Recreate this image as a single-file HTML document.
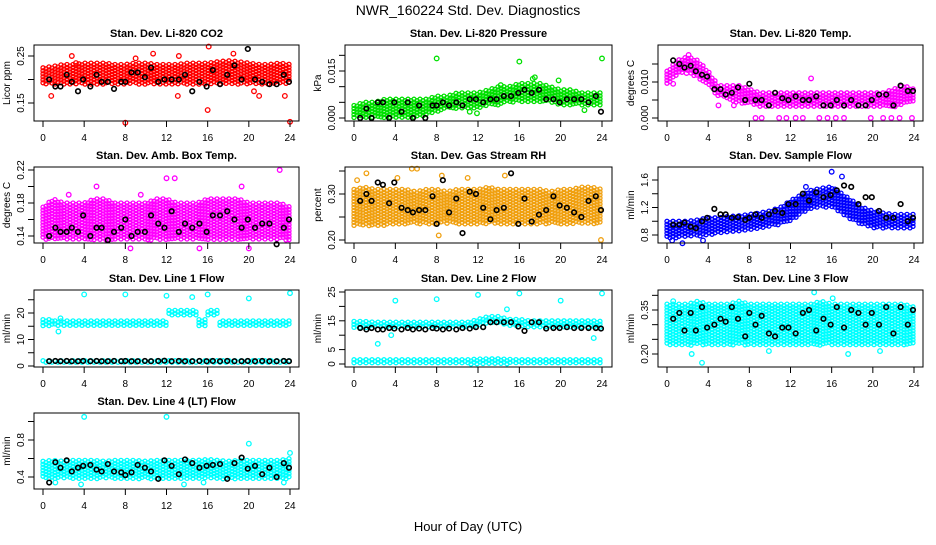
<!DOCTYPE html>
<html><head><meta charset="utf-8"><style>
html,body{margin:0;padding:0;background:#fff}
svg text{font-family:"Liberation Sans",sans-serif}
</style></head><body>
<svg id="c" width="936" height="540" xmlns="http://www.w3.org/2000/svg">
<text x="468" y="15" text-anchor="middle" font-size="14">NWR_160224 Std. Dev. Diagnostics</text>
<text x="468" y="531" text-anchor="middle" font-size="13">Hour of Day (UTC)</text>
</svg>
<script>
const bandHours=[0,1,2,3,4,5,6,7,8,9,10,11,12,13,14,15,16,17,18,19,20,21,22,23,24];
const blackHours=[0.6,1.2,1.7,2.3,2.8,3.4,3.9,4.6,5.2,5.7,6.3,6.9,7.6,8.0,8.6,9.2,9.9,10.5,11.2,11.8,12.5,13.2,13.8,14.5,15.2,15.9,16.5,17.2,17.9,18.6,19.3,19.9,20.6,21.3,22.0,22.7,23.4,23.9];
const xTicks=[0,4,8,12,16,20,24];

// Panel 1 CO2
const p1Lo=[0.19,0.19,0.19,0.19,0.19,0.19,0.19,0.19,0.19,0.19,0.19,0.19,0.19,0.19,0.19,0.19,0.19,0.19,0.19,0.19,0.19,0.19,0.19,0.19,0.19];
const p1Hi=[0.225,0.228,0.232,0.232,0.235,0.235,0.235,0.232,0.232,0.235,0.235,0.232,0.232,0.232,0.235,0.235,0.235,0.238,0.24,0.238,0.235,0.232,0.232,0.235,0.232];
const p1OutH=[0.8,2.8,8,16,16.1,9,10.7,13.1,23.5,24,13.2,18.5,21,3.2,20.5];
const p1OutV=[0.165,0.25,0.108,0.135,0.27,0.245,0.255,0.165,0.165,0.11,0.25,0.255,0.165,0.235,0.175];
const p1Black=[0.2,0.185,0.185,0.21,0.195,0.175,0.2,0.185,0.21,0.195,0.195,0.18,0.195,0.195,0.215,0.215,0.205,0.225,0.195,0.2,0.2,0.2,0.21,0.175,0.195,0.185,0.22,0.19,0.21,0.23,0.2,0.265,0.2,0.195,0.19,0.19,0.21,0.195];
// Panel 2 Pressure
const p2Lo=[0,0,0,0,0,0,0,0.001,0.002,0.003,0.003,0.003,0.003,0.004,0.004,0.005,0.005,0.005,0.005,0.005,0.004,0.004,0.004,0.004,0.004];
const p2Hi=[0.004,0.005,0.005,0.006,0.006,0.006,0.006,0.006,0.007,0.007,0.008,0.008,0.008,0.009,0.01,0.01,0.011,0.011,0.011,0.01,0.009,0.009,0.008,0.008,0.008];
const p2OutH=[8,16,24,17.5,17.3,19.8,11.9,11.2,14.2,22.3];
const p2OutV=[0.019,0.018,0.019,0.013,0.0125,0.012,0.0015,0.002,0.0105,0.0025];
const p2Black=[0,0.003,0,0.005,0.005,0,0.005,0.002,0.005,0,0.004,0,0.004,0.004,0.005,0.004,0.005,0.004,0.006,0.006,0.005,0.006,0.006,0.007,0.007,0.008,0.009,0.008,0.009,0.006,0.006,0.005,0.006,0.006,0.006,0.005,0.007,0.002];
// Panel 3 Temp
const p3Lo=[0.009,0.012,0.013,0.011,0.009,0.006,0.005,0.004,0.004,0.003,0.003,0.003,0.003,0.003,0.003,0.003,0.003,0.003,0.003,0.003,0.003,0.003,0.003,0.004,0.004];
const p3Hi=[0.013,0.016,0.017,0.016,0.013,0.009,0.009,0.009,0.008,0.007,0.007,0.007,0.007,0.007,0.007,0.007,0.007,0.007,0.007,0.007,0.007,0.007,0.008,0.009,0.008];
const p3OutH=[0.6,1.9,5,6.5,14,2.1,8.6,9.2,10.9,11.6,12.5,13.2,14.8,15.6,16.4,17.2,19.8,21,21.8,22.6,23.8];
const p3OutV=[0.0095,0.0125,0.0035,0.0035,0.011,0.0175,0,0,0,0,0,0,0,0,0,0,0,0,0,0,0];
const p3Black=[0.016,0.015,0.014,0.0145,0.013,0.012,0.0115,0.008,0.008,0.0065,0.007,0.0085,0.005,0.0095,0.005,0.005,0.0035,0.007,0.0055,0.005,0.006,0.005,0.005,0.006,0.0035,0.0035,0.005,0.0035,0.005,0.0035,0.0035,0.005,0.0065,0.0065,0.0035,0.009,0.0075,0.0075];
// Panel 4 Amb box temp
const p4Lo=[0.135,0.135,0.135,0.135,0.135,0.135,0.135,0.135,0.135,0.135,0.135,0.135,0.135,0.135,0.135,0.135,0.135,0.135,0.135,0.135,0.135,0.135,0.135,0.135,0.135];
const p4Hi=[0.175,0.185,0.18,0.18,0.18,0.185,0.185,0.18,0.18,0.18,0.18,0.185,0.185,0.18,0.18,0.18,0.185,0.185,0.185,0.185,0.18,0.18,0.18,0.18,0.175];
const p4OutH=[2.5,5.2,9.5,12,12.8,19.3,23,15.2,8.5,20];
const p4OutV=[0.19,0.2,0.19,0.21,0.21,0.2,0.22,0.125,0.125,0.125];
const p4Black=[0.14,0.15,0.145,0.145,0.15,0.145,0.165,0.14,0.15,0.15,0.135,0.145,0.15,0.16,0.14,0.145,0.145,0.165,0.155,0.15,0.17,0.145,0.155,0.15,0.155,0.145,0.165,0.165,0.17,0.16,0.15,0.16,0.15,0.155,0.155,0.13,0.15,0.16];
// Panel 5 RH
const p5Lo=[0.23,0.23,0.23,0.23,0.235,0.235,0.235,0.235,0.235,0.235,0.235,0.235,0.235,0.235,0.235,0.235,0.235,0.235,0.235,0.235,0.235,0.235,0.235,0.235,0.235];
const p5Hi=[0.31,0.315,0.31,0.31,0.31,0.31,0.305,0.31,0.31,0.305,0.31,0.31,0.31,0.315,0.31,0.31,0.31,0.31,0.31,0.305,0.31,0.31,0.315,0.315,0.31];
const p5OutH=[0.3,1.2,4.2,6.1,8.2,8.5,11,14.6,23.9,5.6];
const p5OutV=[0.33,0.345,0.335,0.355,0.21,0.34,0.335,0.34,0.2,0.355];
const p5Black=[0.285,0.3,0.285,0.325,0.32,0.28,0.325,0.27,0.265,0.26,0.265,0.265,0.295,0.235,0.33,0.26,0.29,0.215,0.305,0.3,0.27,0.245,0.265,0.27,0.345,0.235,0.29,0.24,0.255,0.265,0.295,0.275,0.27,0.26,0.25,0.285,0.295,0.265];
// Panel 6 Sample flow
const p6Lo=[0.75,0.75,0.78,0.78,0.8,0.82,0.84,0.86,0.88,0.9,0.92,0.95,1.0,1.1,1.18,1.2,1.2,1.1,1.0,0.95,0.9,0.9,0.9,0.9,0.9];
const p6Hi=[1.0,1.0,1.0,1.02,1.05,1.05,1.07,1.08,1.1,1.12,1.15,1.2,1.3,1.38,1.45,1.48,1.5,1.4,1.3,1.2,1.15,1.12,1.1,1.1,1.1];
const p6OutH=[1.5,3.5,16,17,13.5,0.5];
const p6OutV=[0.68,0.72,1.72,1.65,1.5,0.72];
const p6Black=[0.95,0.95,0.98,0.92,0.9,1.0,1.05,1.18,1.1,1.1,1.05,1.06,1.02,1.05,1.1,1.05,1.1,1.15,1.12,1.25,1.25,1.4,1.3,1.42,1.35,1.38,1.45,1.52,1.5,1.25,1.35,1.35,1.15,1.05,1.05,1.25,1.0,1.05];
// Panel 7 Line 1 flow
const p7Lo=[15,15,15,15,15,15,15,15,15,15,15,15,19,19,19,15,19,15,15,15,15,15,15,15,15];
const p7Hi=[17.5,17,17,17,17,17,17,17,17,17,17,17,21,21,21,17.5,21,17,17,17,17,17,17,17,17];
const p7Lo2=[1,1,1,1,1,1,1,1,1,1,1,1,1,1,1,1,1,1,1,1,1,1,1,1,1];
const p7Hi2=[2,2,2,2,2,2,2,2,2,2,2,2,2,2,2,2,2,2,2,2,2,2,2,2,2];
const p7OutH=[4,8,12,14.5,16,20,24,1.5,1.7];
const p7OutV=[27,27,26.5,26,27,25.5,27.5,13,18];
const p7Black=[1.8,1.9,1.8,1.9,1.8,1.8,1.9,1.8,1.9,1.8,1.8,1.9,1.8,1.9,1.8,1.8,1.9,1.8,1.9,2,1.8,1.9,1.8,1.8,1.9,1.8,1.9,1.8,1.9,1.8,1.8,1.9,1.8,1.9,1.8,1.8,1.9,1.8];
// Panel 8 Line 2 flow
const p8Lo=[12.5,12.5,12.5,12.5,12.5,12.5,12.5,12.5,12.5,12.5,12.5,12.5,13,14,14,13,13,12.5,12.5,12.5,12.5,12.5,12.5,12.5,12.5];
const p8Hi=[14.8,14.8,14.5,14.5,14.5,14.5,14.5,14.5,14.5,14.5,14.5,14.5,15.5,16.5,16.5,15.5,15.5,15,15,15,15,15,15,15,14.8];
const p8Lo2=[0,0,0,0,0,0,0,0,0,0,0,0,0,0,0,0,0,0,0,0,0,0,0,0,0];
const p8Hi2=[1.5,1.5,1.5,1.5,1.5,1.5,1.5,1.5,1.5,1.5,1.5,1.5,1.7,1.8,1.8,1.6,1.5,1.5,1.5,1.5,1.5,1.5,1.5,1.5,1.5];
const p8OutH=[4,8,12,16,20,24,2.3,14.8,23.2,3.6];
const p8OutV=[22,22.5,24,24.5,22,24.5,7,19,9,10];
const p8Black=[12.5,12,12.5,12,12,12.5,12.3,12,12.5,12,12.3,12,12.5,12.3,12,12.3,12,12.5,12.3,12.8,12.8,14.5,14.5,14.5,14.5,13,11.5,14.5,14.5,12.3,12.5,12.5,12.8,12.5,12.5,12.5,12.5,12.3];
// Panel 9 Line 3 flow
const p9Lo=[0.23,0.23,0.23,0.23,0.23,0.23,0.23,0.23,0.23,0.23,0.23,0.23,0.23,0.23,0.23,0.23,0.23,0.23,0.23,0.23,0.23,0.23,0.23,0.23,0.23];
const p9Hi=[0.37,0.37,0.37,0.38,0.37,0.37,0.37,0.38,0.37,0.37,0.37,0.37,0.37,0.37,0.37,0.38,0.37,0.37,0.37,0.37,0.37,0.37,0.37,0.37,0.36];
const p9OutH=[0.6,3.4,14.3,16.1,2.4,9.9,17.6,20.7];
const p9OutV=[0.38,0.17,0.41,0.39,0.2,0.21,0.2,0.21];
const p9Black=[0.32,0.34,0.28,0.34,0.28,0.36,0.29,0.3,0.32,0.31,0.36,0.32,0.26,0.34,0.3,0.33,0.27,0.26,0.29,0.29,0.27,0.34,0.35,0.28,0.32,0.3,0.36,0.29,0.35,0.34,0.3,0.34,0.3,0.36,0.27,0.36,0.3,0.35];
// Panel 10 Line 4 (LT) flow
const p10Lo=[0.38,0.38,0.38,0.38,0.38,0.38,0.38,0.38,0.38,0.38,0.38,0.38,0.38,0.38,0.38,0.38,0.38,0.38,0.38,0.38,0.38,0.38,0.38,0.38,0.38];
const p10Hi=[0.57,0.58,0.57,0.58,0.58,0.58,0.57,0.58,0.58,0.58,0.57,0.58,0.58,0.58,0.58,0.58,0.59,0.58,0.57,0.58,0.58,0.58,0.58,0.58,0.6];
const p10OutH=[4,12,20,24,3.7,1.2,13.7,15.6,23.4];
const p10OutV=[1.05,1.05,0.76,0.66,0.32,0.34,0.32,0.34,0.34];
const p10Black=[0.34,0.56,0.5,0.58,0.46,0.5,0.52,0.53,0.48,0.46,0.54,0.46,0.45,0.42,0.45,0.53,0.5,0.46,0.38,0.58,0.52,0.43,0.59,0.55,0.5,0.52,0.53,0.54,0.38,0.55,0.61,0.49,0.52,0.43,0.5,0.4,0.55,0.5];

const NS="http://www.w3.org/2000/svg";
const svg=document.getElementById('c');
function mk(tag,attrs,parent){const e=document.createElementNS(NS,tag);for(const k in attrs)e.setAttribute(k,attrs[k]);(parent||svg).appendChild(e);return e;}

const cols=[{l:34,r:299,x0:43,x24:290},{l:345,r:612,x0:354,x24:602},{l:658,r:923,x0:667,x24:914}];
const rows=[{t:45,b:121},{t:167,b:243},{t:290,b:367},{t:413,b:489}];

const panels=[
 {name:'co2',title:'Stan. Dev. Li-820 CO2',yt:'Licor ppm',c:0,r:0,col:'#ff0000',yref:[0.15,103,0.25,56],ticks:[0.15,0.2,0.25],labs:['0.15','','0.25'],bands:[[p1Lo,p1Hi]],oh:p1OutH,ov:p1OutV,bk:p1Black},
 {name:'pressure',title:'Stan. Dev. Li-820 Pressure',yt:'kPa',c:1,r:0,col:'#00e000',yref:[0,118,0.015,71],ticks:[0,0.005,0.01,0.015,0.02],labs:['0.000','','','0.015',''],bands:[[p2Lo,p2Hi]],oh:p2OutH,ov:p2OutV,bk:p2Black},
 {name:'temp',title:'Stan. Dev. Li-820 Temp.',yt:'degrees C',c:2,r:0,col:'#ff00ff',yref:[0,118,0.01,82],ticks:[0,0.005,0.01,0.015],labs:['0.000','','0.010',''],bands:[[p3Lo,p3Hi]],oh:p3OutH,ov:p3OutV,bk:p3Black},
 {name:'amb-box-temp',title:'Stan. Dev. Amb. Box Temp.',yt:'degrees C',c:0,r:1,col:'#ff00ff',yref:[0.14,236,0.22,170],ticks:[0.14,0.16,0.18,0.2,0.22],labs:['0.14','','0.18','','0.22'],bands:[[p4Lo,p4Hi]],oh:p4OutH,ov:p4OutV,bk:p4Black},
 {name:'gas-stream-rh',title:'Stan. Dev. Gas Stream RH',yt:'percent',c:1,r:1,col:'#f0a010',yref:[0.2,240,0.3,194],ticks:[0.2,0.25,0.3,0.35],labs:['0.20','','0.30',''],bands:[[p5Lo,p5Hi]],oh:p5OutH,ov:p5OutV,bk:p5Black},
 {name:'sample-flow',title:'Stan. Dev. Sample Flow',yt:'ml/min',c:2,r:1,col:'#0000ff',yref:[0.8,235,1.6,180],ticks:[0.8,1.0,1.2,1.4,1.6],labs:['0.8','','1.2','','1.6'],bands:[[p6Lo,p6Hi]],oh:p6OutH,ov:p6OutV,bk:p6Black},
 {name:'line1-flow',title:'Stan. Dev. Line 1 Flow',yt:'ml/min',c:0,r:2,col:'#00ffff',yref:[0,366,20,313],ticks:[0,5,10,15,20,25],labs:['0','','10','','20',''],bands:[[p7Lo,p7Hi],[p7Lo2,p7Hi2]],step:true,oh:p7OutH,ov:p7OutV,bk:p7Black},
 {name:'line2-flow',title:'Stan. Dev. Line 2 Flow',yt:'ml/min',c:1,r:2,col:'#00ffff',yref:[0,364,25,292],ticks:[0,5,10,15,20,25],labs:['0','5','','15','','25'],bands:[[p8Lo,p8Hi],[p8Lo2,p8Hi2]],oh:p8OutH,ov:p8OutV,bk:p8Black},
 {name:'line3-flow',title:'Stan. Dev. Line 3 Flow',yt:'ml/min',c:2,r:2,col:'#00ffff',yref:[0.2,354,0.35,310],ticks:[0.2,0.25,0.3,0.35,0.4],labs:['0.20','','','0.35',''],bands:[[p9Lo,p9Hi]],oh:p9OutH,ov:p9OutV,bk:p9Black},
 {name:'line4-flow',title:'Stan. Dev. Line 4 (LT) Flow',yt:'ml/min',c:0,r:3,col:'#00ffff',yref:[0.4,477,0.8,440],ticks:[0.4,0.6,0.8,1.0],labs:['0.4','','0.8',''],bands:[[p10Lo,p10Hi]],oh:p10OutH,ov:p10OutV,bk:p10Black},
];

panels.forEach(p=>{
  const C=cols[p.c],R=rows[p.r];
  const g=mk('g',{});
  
  
  const xs=h=>C.x0+(C.x24-C.x0)*h/24;
  const ys=v=>p.yref[1]+(v-p.yref[0])*(p.yref[3]-p.yref[1])/(p.yref[2]-p.yref[0]);
  const t=mk('text',{x:(C.l+C.r)/2,y:R.t-8,'text-anchor':'middle','font-size':'11','font-weight':'bold'},g);
  t.textContent=p.title;
  
  
  const bg=mk('g',{fill:'none',stroke:p.col,'stroke-width':'1.3'},g);
  
  
  p.bands.forEach(([lo,hi])=>{
    for(let px=C.x0;px<=C.x24;px+=3){
      const h=(px-C.x0)/(C.x24-C.x0)*24;
      const i=Math.min(23,Math.floor(h)),f=p.step?0:h-i;
      const l=lo[i]+(lo[i+1]-lo[i])*f,u=hi[i]+(hi[i+1]-hi[i])*f;
      const y1=ys(u),y2=ys(l);
      const off=((px-C.x0)/3)%2?1.5:0;
      for(let py=y1+off;py<=y2;py+=3){
        const c=mk('circle',{cx:px.toFixed(1),cy:py.toFixed(1),r:'2'},bg);
        
        
      }
    }
  });
  p.oh.forEach((h,i)=>{
    const c=mk('circle',{cx:xs(h),cy:ys(p.ov[i]),r:'2.3'},bg);
    
    
  });
  const kg=mk('g',{fill:'none',stroke:'#000','stroke-width':'1.6'},g);
  
  
  p.bk.forEach((v,i)=>{
    const c=mk('circle',{cx:xs(blackHours[i]),cy:ys(v),r:'2.3'},kg);
    
    
  });
  const box=mk('rect',{x:C.l,y:R.t,width:C.r-C.l,height:R.b-R.t,fill:'none',stroke:'#000','stroke-width':'1'},g);
  
  
  xTicks.forEach(h=>{
    mk('line',{x1:xs(h),x2:xs(h),y1:R.b,y2:R.b+6,stroke:'#000'},g);
    const tx=mk('text',{x:xs(h),y:R.b+20,'text-anchor':'middle','font-size':'10'},g);
    tx.textContent=h;
    
    
  });
  p.ticks.forEach((v,i)=>{
    const y=ys(v);
    mk('line',{x1:C.l-6,x2:C.l,y1:y,y2:y,stroke:'#000'},g);
    if(p.labs[i]){
      const tx=mk('text',{x:C.l-10,y:y,'text-anchor':'middle','font-size':'10',transform:`rotate(-90 ${C.l-10} ${y})`},g);
      tx.textContent=p.labs[i];
      
      
    }
  });
  const yc=(R.t+R.b)/2;
  const yt=mk('text',{x:C.l-24,y:yc,'text-anchor':'middle','font-size':'10',transform:`rotate(-90 ${C.l-24} ${yc})`},g);
  yt.textContent=p.yt;
  
  
});
</script>
</body></html>
